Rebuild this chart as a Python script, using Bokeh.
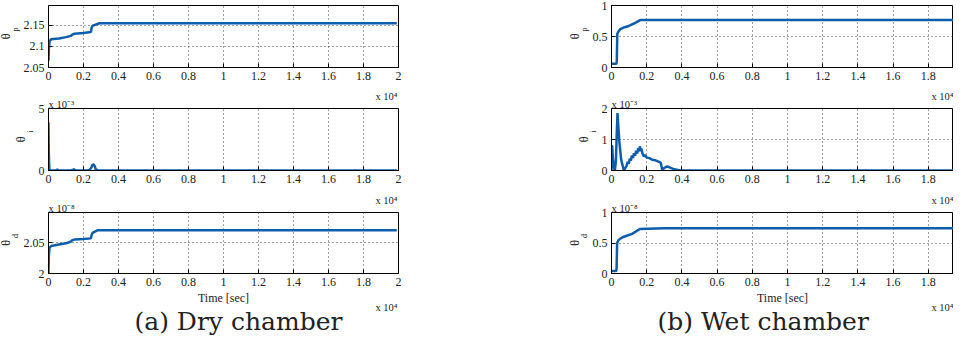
from bokeh.plotting import figure
from bokeh.layouts import row, column
from bokeh.models import Range1d, FixedTicker, Title
from bokeh.embed import file_html
from bokeh.resources import INLINE

# ---------------- data ----------------
x_ticks = [0, 2000, 4000, 6000, 8000, 10000, 12000, 14000, 16000, 18000, 20000]
x_tick_labels = ["0", "0.2", "0.4", "0.6", "0.8", "1", "1.2", "1.4", "1.6", "1.8", "2"]

# (a) Dry chamber
dry_tp_t = [0, 20, 60, 150, 600, 1000, 1290, 1350, 1480, 2000, 2420, 2470, 2520, 2650, 2800, 2900, 5000, 10000, 15000, 19900]
dry_tp_v = [2.066, 2.095, 2.112, 2.117, 2.119, 2.122, 2.125, 2.128, 2.130, 2.132, 2.134, 2.145, 2.149, 2.151, 2.153, 2.155, 2.155, 2.155, 2.155, 2.155]

dry_ti_t = [0, 10, 25, 40, 60, 100, 400, 500, 600, 1300, 1450, 1550, 2200, 2350, 2450, 2520, 2580, 2640, 2700, 2800, 3200, 19900]
dry_ti_v = [3.9, 2.0, 1.0, 0.3, 0.05, 0.0, 0.0, 0.07, 0.0, 0.0, 0.1, 0.0, 0.0, 0.05, 0.25, 0.45, 0.48, 0.35, 0.1, 0.03, 0.0, 0.0]  # x 1e-3

dry_td_t = [0, 20, 60, 150, 600, 1000, 1290, 1350, 1480, 2000, 2420, 2470, 2520, 2650, 2800, 5000, 10000, 15000, 19900]
dry_td_v = [2.000, 2.030, 2.042, 2.0445, 2.047, 2.049, 2.052, 2.054, 2.055, 2.056, 2.057, 2.063, 2.066, 2.068, 2.070, 2.070, 2.070, 2.070, 2.070]  # x 1e-8

# (b) Wet chamber
wet_tp_t = [0, 280, 300, 330, 370, 500, 700, 990, 1350, 1630, 3000, 10000, 19900]
wet_tp_v = [0.06, 0.06, 0.10, 0.54, 0.57, 0.62, 0.645, 0.67, 0.72, 0.765, 0.765, 0.765, 0.765]

wet_ti_t = [0, 20, 40, 80, 130, 190, 250, 300, 340, 380, 450, 550, 700, 800, 860, 920, 980, 1040, 1100, 1160,
            1220, 1280, 1340, 1400, 1460, 1520, 1580, 1610, 1650, 1700, 1760, 1840, 1900, 2000, 2150, 2310,
            2500, 2700, 2800, 2880, 2950, 3050, 3170, 3300, 3500, 3900, 5000, 19900]
wet_ti_v = [0.0, 0.8, 0.78, 0.4, 0.1, 0.0, 0.3, 1.2, 1.85, 1.5, 0.9, 0.35, 0.0, 0.1, 0.15, 0.28, 0.22, 0.38, 0.32, 0.48,
            0.4, 0.56, 0.48, 0.64, 0.55, 0.72, 0.62, 0.78, 0.66, 0.7, 0.55, 0.45, 0.5, 0.42, 0.4, 0.35,
            0.33, 0.28, 0.25, 0.02, 0.06, 0.1, 0.13, 0.1, 0.05, 0.0, 0.0, 0.0]  # x 1e-3

wet_td_t = [0, 270, 290, 320, 400, 600, 780, 1170, 1610, 3000, 10000, 19900]
wet_td_v = [0.04, 0.04, 0.10, 0.50, 0.55, 0.59, 0.61, 0.65, 0.73, 0.74, 0.74, 0.74]  # x 1e-8

# axis ranges / ticks
dry_tp_range, dry_tp_ticks, dry_tp_labels = (2.05, 2.197), [2.05, 2.1, 2.15], ["2.05", "2.1", "2.15"]
dry_ti_range, dry_ti_ticks, dry_ti_labels = (0, 5), [0, 5], ["0", "5"]
dry_td_range, dry_td_ticks, dry_td_labels = (2.0, 2.099), [2.0, 2.05], ["2", "2.05"]
wet_tp_range, wet_tp_ticks, wet_tp_labels = (0, 1), [0, 0.5, 1], ["0", "0.5", "1"]
wet_ti_range, wet_ti_ticks, wet_ti_labels = (0, 2), [0, 1, 2], ["0", "1", "2"]
wet_td_range, wet_td_ticks, wet_td_labels = (0, 1), [0, 0.5, 1], ["0", "0.5", "1"]

mult_time = "x 10⁴"
mult_i = "x 10⁻³"
mult_d = "x 10⁻⁸"

# ---------------- styling ----------------
FONT = "Liberation Serif"
TXT = "#222222"
BLUE = "#0D5DAD"
MULT_SIZE = 10.5


def title(text, size, align="left", offset=0, standoff=0, valign="bottom", font=FONT):
    return Title(text=text, align=align, offset=offset, standoff=standoff, vertical_align=valign,
                 text_font=font, text_font_size=f"{size}px", text_font_style="normal", text_color=TXT)


def make_panel(side, height, top, bottom, t, v, yr, yticks, ylabels, sub, xlabel=None):
    if side == "left":
        width, bl, br, fw = 472, 46, 74, 352
    else:
        width, bl, br, fw = 481, 139, 0, 342
    x_end = 20000 * fw / 352
    p = figure(width=width, height=height, x_range=Range1d(0, x_end), y_range=Range1d(*yr),
               output_backend="svg", toolbar_location=None,
               min_border_left=bl, min_border_right=br, min_border_top=top, min_border_bottom=bottom)
    p.background_fill_color = "white"
    p.border_fill_color = "white"
    p.outline_line_color = "black"
    p.outline_line_width = 1
    p.outline_line_alpha = 1

    p.xaxis.ticker = FixedTicker(ticks=x_ticks)
    p.xaxis.major_label_overrides = dict(zip(x_ticks, x_tick_labels))
    p.yaxis.ticker = FixedTicker(ticks=yticks)
    p.yaxis.major_label_overrides = dict(zip(yticks, ylabels))
    p.xgrid.ticker = FixedTicker(ticks=x_ticks)
    p.ygrid.ticker = FixedTicker(ticks=yticks)
    for g in (p.xgrid, p.ygrid):
        g.grid_line_color = "#333333"
        g.grid_line_dash = "1 3"
        g.grid_line_width = 1
        g.grid_line_alpha = 0.9
    for ax in p.axis:
        ax.axis_line_color = "black"
        ax.axis_line_width = 1
        ax.major_tick_in = 4
        ax.major_tick_out = 0
        ax.major_tick_line_color = "black"
        ax.minor_tick_line_color = None
        ax.major_label_text_font = FONT
        ax.major_label_text_font_size = "12px"
        ax.major_label_text_color = TXT
        ax.major_label_standoff = 4
    if xlabel:
        p.xaxis.axis_label = xlabel
        p.xaxis.axis_label_text_font = FONT
        p.xaxis.axis_label_text_font_size = "12px"
        p.xaxis.axis_label_text_font_style = "normal"
        p.xaxis.axis_label_text_color = TXT
        p.xaxis.axis_label_standoff = 2

    # y label: theta with subscript, stacked left of the tick labels
    fh = height - top - bottom
    p.add_layout(title(sub, 8, align="right", offset=fh / 2 - 9, standoff=-2, valign="top"), "left")
    p.add_layout(title("θ", 12, align="center", standoff=-5.3, valign="middle"), "left")

    p.line(x=t, y=v, line_color=BLUE, line_width=2.5)
    return p


def time_mult(side, **kw):
    if side == "left":
        return title(mult_time, MULT_SIZE, align="right", offset=1, **kw)
    return title(mult_time, MULT_SIZE, align="right", offset=0, **kw)


def build(side, d1, d2, d3, caption, caption_offset):
    a = make_panel(side, 85, 5, 18, *d1, sub="p")
    b = make_panel(side, 103, 23, 18, *d2, sub="i")
    c = make_panel(side, 148, 24, 63, *d3, sub="d", xlabel="Time [sec]")

    # row just above panel b: its own exponent, then the time exponent of panel a
    b.add_layout(title(mult_i, MULT_SIZE, align="left", offset=0, standoff=-8.5, valign="top"), "above")
    b.add_layout(time_mult(side, valign="top"), "above")
    # same for panel c
    c.add_layout(title(mult_d, MULT_SIZE, align="left", offset=0, standoff=-8.5, valign="top"), "above")
    c.add_layout(time_mult(side, valign="top"), "above")
    # time exponent of panel c, on the row of the axis label
    c.add_layout(time_mult(side, standoff=-12, valign="top"), "below")
    c.add_layout(title(caption, 25, align="left", offset=caption_offset, standoff=-3, valign="top",
                       font="DejaVu Serif"), "below")
    return column(a, b, c)


left = build("left",
             (dry_tp_t, dry_tp_v, dry_tp_range, dry_tp_ticks, dry_tp_labels),
             (dry_ti_t, dry_ti_v, dry_ti_range, dry_ti_ticks, dry_ti_labels),
             (dry_td_t, dry_td_v, dry_td_range, dry_td_ticks, dry_td_labels),
             "(a) Dry chamber", 86)
right = build("right",
              (wet_tp_t, wet_tp_v, wet_tp_range, wet_tp_ticks, wet_tp_labels),
              (wet_ti_t, wet_ti_v, wet_ti_range, wet_ti_ticks, wet_ti_labels),
              (wet_td_t, wet_td_v, wet_td_range, wet_td_ticks, wet_td_labels),
              "(b) Wet chamber", 46)

layout = row(left, right)
open("out.html", "w").write(file_html(layout, INLINE))
